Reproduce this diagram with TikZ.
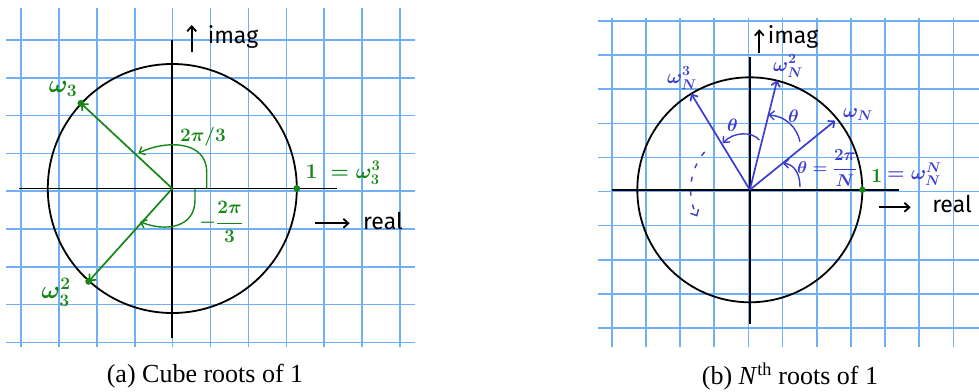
\RequirePackage{fix-cm}
\documentclass[tikz,border=0pt]{standalone}
\usepackage{fontspec}
\setmainfont{Liberation Serif}
\newfontfamily\handfont{Fira Sans}
\usetikzlibrary{arrows.meta,calc}
\definecolor{gridblue}{RGB}{110,175,245}
\definecolor{handgreen}{RGB}{20,135,20}
\definecolor{handblue}{RGB}{60,60,205}

\begin{document}
\begin{tikzpicture}[x=1pt, y=1pt, >={Straight Barb[length=5pt,width=9pt]},
    gridline/.style={gridblue, line width=1.6pt},
    axisline/.style={black, line width=1.8pt},
    rootarrow/.style={->, line width=1.7pt},
    anglearc/.style={->, line width=1.4pt},
    handword/.style={font=\handfont\fontsize{23}{25}\selectfont},
    handmath/.style={inner sep=1pt, font=\fontsize{#1}{#1}\selectfont\boldmath},
    caption/.style={font=\fontsize{26}{30}\selectfont}]

    \useasboundingbox (0,0) rectangle (979,-391);

    % (a) grid, axes and circle
    \foreach \i in {0,...,10}
        \draw[gridline] (21+37.9*\i,-8.3) -- (21+37.9*\i,-346.7);
    \foreach \j in {0,...,8}
        \draw[gridline] (6,-40-37.8*\j) -- (415,-40-37.8*\j);

    \coordinate (Oa) at (172.3,-188.5);
    \draw[axisline] (19.3,-188.5) -- (337.3,-188.5);
    \draw[axisline] (172.3,-40) -- (172.3,-338);
    \draw[axisline] (Oa) circle[radius=124.5];

    \coordinate (onea) at ($(Oa)+(0:124.5)$);
    \coordinate (w3a) at ($(Oa)+(137:125)$);
    \coordinate (w3sqa) at ($(Oa)+(228:125)$);

    \draw[rootarrow, handgreen] (Oa) -- (w3a);
    \draw[rootarrow, handgreen] (Oa) -- (w3sqa);
    \fill[handgreen] (w3a) circle[radius=3.4];
    \fill[handgreen] (w3sqa) circle[radius=3.4];
    \fill[handgreen] (onea) circle[radius=3.4];

    \node[handmath=25, handgreen] (lw3a) at (63,-89) {$\omega_3$};
    \node[handmath=25, handgreen] (lw3sqa) at (56,-292) {$\omega_3^2$};
    \node[handmath=21, handgreen] (lonea) at (343,-173) {$1\;=\omega_3^3$};

    % angle arcs
    \coordinate (arcpa) at (206.7,-188.5);
    \coordinate (arcqa) at (138.3,-153.3);
    \draw[anglearc, handgreen] (arcpa) -- (206.7,-172)
        .. controls (206.7,-140) and (165,-140) .. (arcqa);
    \node[handmath=19, handgreen] (thetaa) at (203,-136.5) {$2\pi/3$};

    \coordinate (arcra) at (195,-188.5);
    \coordinate (arcsa) at (140,-221.7);
    \draw[anglearc, handgreen] (arcra) -- (195,-200)
        .. controls (195,-228) and (165,-232) .. (arcsa);
    \node[handmath=19, handgreen] (mthetaa) at (221,-221.7)
        {$-\displaystyle\frac{2\pi}{3}$};

    % labels of the axes
    \node[handword] (reala) at (383,-221) {real};
    \coordinate (realtaila) at (315,-223.3);
    \draw[->, line width=1.8pt] (realtaila) -- ([xshift=-10pt]reala.west |- realtaila);
    \node[handword] (imaga) at (233,-37) {imag};
    \coordinate (imagtaila) at (191.7,-51.7);
    \draw[->, line width=1.8pt] (imagtaila) -- (191.7,-25);

    % (b) grid, axes and circle
    \foreach \i in {0,...,10}
        \draw[gridline] (611.7+34.17*\i,-18.3) -- (611.7+34.17*\i,-346.7);
    \foreach \j in {0,...,9}
        \draw[gridline] (597.7,-21-34.1*\j) -- (979,-21-34.1*\j);

    \coordinate (Ob) at (749.8,-189.8);
    \draw[axisline] (611.7,-189.8) -- (899,-189.8);
    \draw[axisline] (749.8,-56.7) -- (749.8,-324);
    \draw[axisline] (Ob) circle[radius=112.5];

    \coordinate (oneb) at ($(Ob)+(0:112.5)$);
    \coordinate (wNb) at ($(Ob)+(39:110)$);
    \coordinate (wNsqb) at ($(Ob)+(76:113)$);
    \coordinate (wNcub) at ($(Ob)+(121.4:112.7)$);

    \draw[rootarrow, handblue] (Ob) -- (wNb);
    \draw[rootarrow, handblue] (Ob) -- (wNsqb);
    \draw[rootarrow, handblue] (Ob) -- (wNcub);
    \fill[handgreen] (oneb) circle[radius=3.2];

    \node[handmath=20, handblue] (lwNb) at (858,-115) {$\omega_N$};
    \node[handmath=20, handblue] (lwNsqb) at (788,-66) {$\omega_N^2$};
    \node[handmath=20, handblue] (lwNcub) at (682,-78) {$\omega_N^3$};
    \node[handmath=20, handgreen] (loneb) at (876.7,-175.7) {$1$};
    \node[handmath=20, handblue, anchor=west] (lwNNb) at (886,-174) {$=\omega_N^N$};

    % angle arcs
    \coordinate (arcpb) at (800,-187);
    \coordinate (arcqb) at (782.7,-163.3);
    \draw[anglearc, handblue] (arcpb)
        .. controls (800,-172) and (793,-164) .. (arcqb);
    \node[handmath=17, handblue] (thetab) at (827,-168)
        {$\theta=\displaystyle\frac{2\pi}{N}$};

    \coordinate (arcrb) at (800,-141.7);
    \coordinate (arcsb) at (768.3,-115);
    \draw[anglearc, handblue] (arcrb)
        .. controls (797,-127) and (785,-116) .. (arcsb);
    \node[handmath=18, handblue] (thetasqb) at (793.5,-116.5) {$\theta$};

    \coordinate (arctb) at (759.3,-140);
    \coordinate (arcub) at (722.7,-143.3);
    \draw[anglearc, handblue] (arctb)
        .. controls (752,-131) and (733,-132) .. (arcub);
    \node[handmath=18, handblue] (thetacub) at (732.5,-125) {$\theta$};

    \draw[anglearc, handblue, dash pattern=on 5pt off 9pt]
        ($(Ob)+(140:59)$) arc[start angle=140, end angle=207, radius=59];

    % labels of the axes
    \node[handword] (realb) at (952,-204) {real};
    \coordinate (realtailb) at (879.3,-207.3);
    \draw[->, line width=1.8pt] (realtailb) -- (910.7,-207.3);
    \node[handword] (imagb) at (793,-37) {imag};
    \coordinate (imagtailb) at (759.3,-53.3);
    \draw[->, line width=1.8pt] (imagtailb) -- (759.3,-29.3);

    % captions
    \node[caption] (capa) at (205,-376.5) {(a) Cube roots of 1};
    \node[caption] (capb) at (790,-376.5) {(b) \textit{N}\textsuperscript{th} roots of 1};
\end{tikzpicture}
\end{document}
